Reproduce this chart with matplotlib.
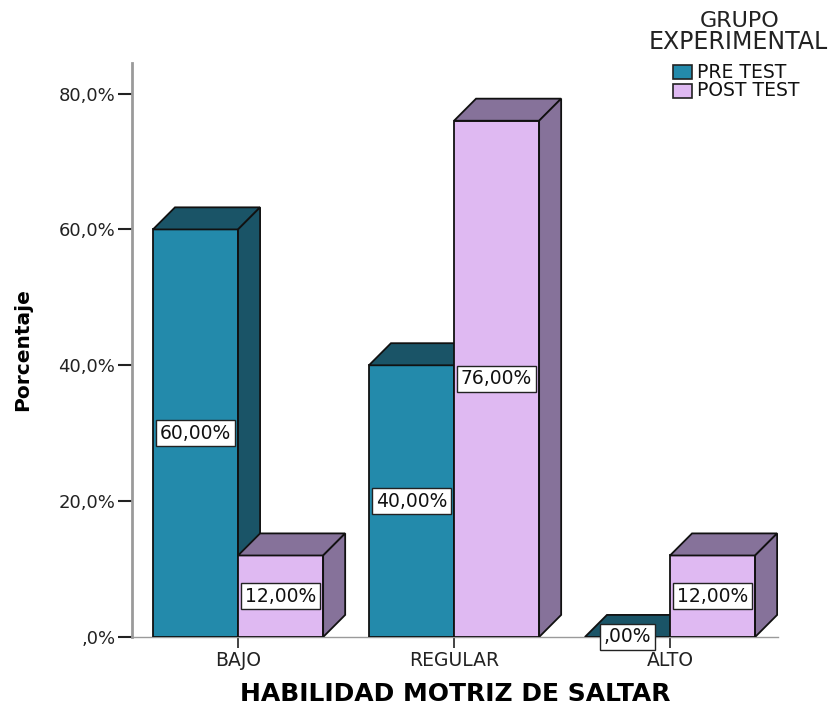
import matplotlib
matplotlib.use("Agg")
import matplotlib.pyplot as plt
from matplotlib.patches import Polygon, Rectangle

# Data
categories = ["BAJO", "REGULAR", "ALTO"]
pre_test = [60.0, 40.0, 0.0]
post_test = [12.0, 76.0, 12.0]
series_names = ["PRE TEST", "POST TEST"]
y_ticks = [0, 20, 40, 60, 80]
y_tick_labels = [",0%", "20,0%", "40,0%", "60,0%", "80,0%"]

# Styling
front_colors = ["#238AAB", "#DFB9F2"]
shade_colors = ["#1A5467", "#86729A"]
edge = "#111111"
bar_w = 0.394      # front face width (category units)
depth_x = 0.102    # 3D offset in x (category units)
depth_y = 3.25     # 3D offset in y (percent units)

plt.rcParams["font.family"] = ["DejaVu Sans"]

fig = plt.figure(figsize=(8.35, 7.07), dpi=100)
fig.patch.set_facecolor("white")
ax = fig.add_axes([132 / 835, 70 / 707, 646 / 835, 574 / 707])
ax.set_xlim(-0.491, 2.5)
ax.set_ylim(0, 84.5)
ax.set_facecolor("white")


def draw_bar(ax, x0, h, front, shade):
    w, dx, dy = bar_w, depth_x, depth_y
    # front face
    ax.add_patch(Rectangle((x0, 0), w, h, facecolor=front, edgecolor=edge,
                           linewidth=1.3, zorder=3))
    # top face
    ax.add_patch(Polygon([(x0, h), (x0 + w, h), (x0 + w + dx, h + dy), (x0 + dx, h + dy)],
                         closed=True, facecolor=shade, edgecolor=edge,
                         linewidth=1.3, zorder=3))
    # side face
    ax.add_patch(Polygon([(x0 + w, 0), (x0 + w + dx, dy), (x0 + w + dx, h + dy), (x0 + w, h)],
                         closed=True, facecolor=shade, edgecolor=edge,
                         linewidth=1.3, zorder=3))


def value_label(ax, xc, y, v):
    txt = f"{v:.2f}".replace(".", ",")
    if txt.startswith("0,"):
        txt = txt[1:]
    ax.text(xc, y, txt + "%", ha="center", va="center", fontsize=13.5, color="#111111",
            zorder=5,
            bbox=dict(boxstyle="square,pad=0.2", facecolor="white", edgecolor="#222222",
                      linewidth=1.0))


for i, (pv, qv) in enumerate(zip(pre_test, post_test)):
    draw_bar(ax, i - bar_w, pv, front_colors[0], shade_colors[0])
    draw_bar(ax, i, qv, front_colors[1], shade_colors[1])

for i, (pv, qv) in enumerate(zip(pre_test, post_test)):
    value_label(ax, i - bar_w / 2, pv / 2, pv)
    value_label(ax, i + bar_w / 2, qv / 2, qv)

# Axes styling
for s in ["top", "right"]:
    ax.spines[s].set_visible(False)
ax.spines["left"].set_color("#9a9a9a")
ax.spines["left"].set_linewidth(2.0)
ax.spines["bottom"].set_color("#9a9a9a")
ax.spines["bottom"].set_linewidth(1.0)
ax.spines["bottom"].set_zorder(2)

ax.set_yticks(y_ticks)
ax.set_yticklabels(y_tick_labels)
ax.tick_params(axis="y", length=10, width=1.5, color="#222222", labelsize=13,
               labelcolor="#222222", pad=2)
ax.set_xticks(range(len(categories)))
ax.set_xticklabels(categories)
ax.tick_params(axis="x", length=8, width=1.2, color="#222222", labelsize=13.5,
               labelcolor="#222222", pad=2)

ax.set_ylabel("Porcentaje", fontsize=14.5, fontweight="bold", labelpad=19)
ax.set_xlabel("HABILIDAD MOTRIZ DE SALTAR", fontsize=18, fontweight="bold", labelpad=9)

# Legend
fig.text(740 / 835, 1 - 21 / 707, "GRUPO", ha="center", va="center", fontsize=16,
         color="#222222")
fig.text(738 / 835, 1 - 42 / 707, "EXPERIMENTAL", ha="center", va="center", fontsize=17,
         color="#222222")
for k, name in enumerate(series_names):
    ytop = 65 + k * 19
    fig.patches.append(Rectangle((673 / 835, 1 - (ytop + 14) / 707), 19 / 835, 14 / 707,
                                 transform=fig.transFigure, facecolor=front_colors[k],
                                 edgecolor="#222222", linewidth=1.2))
    fig.text(697 / 835, 1 - (ytop + 7) / 707, name, ha="left", va="center", fontsize=13.5,
             color="#111111")

fig.savefig("out.png", dpi=100)
